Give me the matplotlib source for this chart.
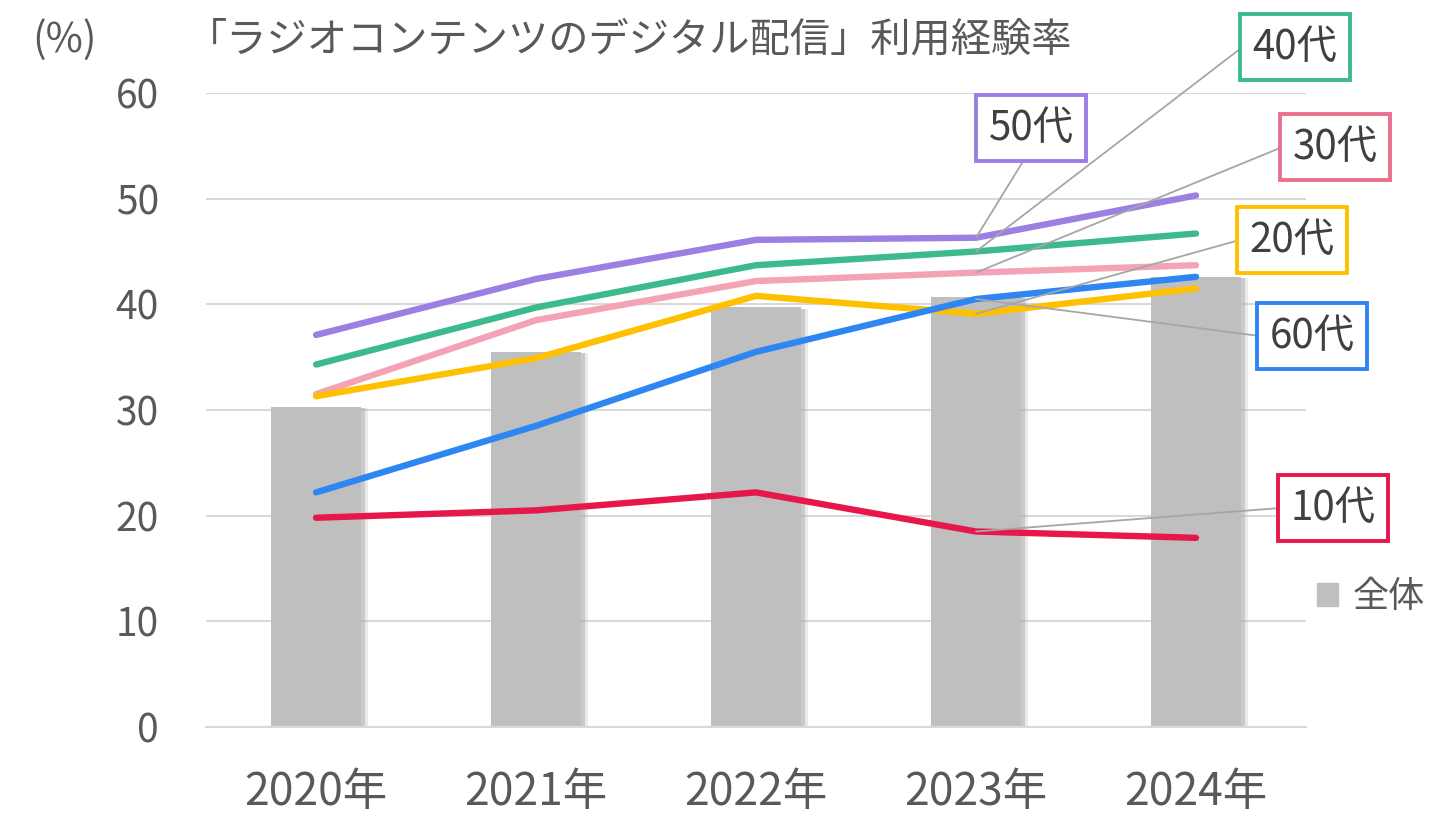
import matplotlib
matplotlib.use('Agg')
import matplotlib.pyplot as plt
import matplotlib.patheffects as pe
from matplotlib.patches import Patch

plt.rcParams['font.family'] = ['Noto Sans CJK JP', 'DejaVu Sans']

years = ['2020年', '2021年', '2022年', '2023年', '2024年']
total = [30.3, 35.5, 39.7, 40.7, 42.6]

age_10 = [19.8, 20.5, 22.2, 18.5, 17.9]
age_20 = [31.3, 34.9, 40.8, 39.1, 41.5]
age_30 = [31.5, 38.5, 42.2, 43.0, 43.7]
age_40 = [34.3, 39.7, 43.7, 45.0, 46.7]
age_50 = [37.1, 42.4, 46.1, 46.3, 50.3]
age_60 = [22.2, 28.5, 35.5, 40.5, 42.6]

series = [
    ('50代', age_50, '#9B7FE3', '#9B7FE3', (1031, 694), (0.5, 0)),
    ('40代', age_40, '#3DBA8C', '#3DBA8C', (1295, 775), (0, 0.5)),
    ('30代', age_30, '#F4A3B6', '#E9708F', (1335, 675), (0, 0.5)),
    ('20代', age_20, '#FFC000', '#FFC000', (1292, 582), (0, 0.5)),
    ('60代', age_60, '#2E86F2', '#2E86F2', (1312, 486), (0, 0.5)),
    ('10代', age_10, '#E5174B', '#E5174B', (1333, 314), (0, 0.5)),
]

txt = '#595959'
fig = plt.figure(figsize=(14.45, 8.22), dpi=100)
ax = fig.add_axes([0.1426, 0.1156, 0.7612, 0.7713])

x = list(range(len(years)))
bars = ax.bar(x, total, width=0.41, color='#BFBFBF', zorder=2)
for b in bars:
    b.set_path_effects([pe.SimplePatchShadow(offset=(3, -1), shadow_rgbFace='#999999', alpha=0.45),
                        pe.SimplePatchShadow(offset=(5, -1), shadow_rgbFace='#bbbbbb', alpha=0.3),
                        pe.Normal()])

for name, vals, col, ecol, pos, rel in series:
    ax.plot(x, vals, color=col, lw=4.6, solid_capstyle='round', solid_joinstyle='round', zorder=3)

# labels with leader lines to 2023 points
for name, vals, col, ecol, pos, rel in series:
    if rel == (0.5, 0):
        cs = 'arc,angleA=-90,angleB=0,armA=0,armB=0,rad=0'
    else:
        cs = 'arc,angleA=180,angleB=0,armA=10,armB=0,rad=0'
    ax.annotate(name, xy=(3, vals[3]), xycoords='data',
                xytext=pos, textcoords='figure pixels',
                ha='center', va='center', fontsize=29, color='#404040',
                bbox=dict(boxstyle='square,pad=0.3', fc='white', ec=ecol, lw=2.8),
                arrowprops=dict(arrowstyle='-', color='#A6A6A6', lw=1.3,
                                relpos=rel, connectionstyle=cs, shrinkA=0, shrinkB=0),
                zorder=5, annotation_clip=False)

ax.set_xlim(-0.5, 4.5)
ax.set_ylim(0, 60)
ax.set_yticks(range(0, 61, 10))
ax.set_xticks(x)
ax.set_xticklabels(years)
ax.grid(axis='y', color='#D9D9D9', lw=1.5, zorder=0)
ax.set_axisbelow(True)
for s in ['top', 'right', 'left']:
    ax.spines[s].set_visible(False)
ax.spines['bottom'].set_color('#D9D9D9')
ax.spines['bottom'].set_linewidth(1.5)
ax.tick_params(axis='y', length=0, pad=34, labelsize=28, labelcolor=txt)
ax.tick_params(axis='x', length=0, pad=30, labelsize=32, labelcolor=txt)

fig.text(0.022, 0.951, '(%)', fontsize=29, color=txt, va='center')
fig.text(0.129, 0.951, '「ラジオコンテンツのデジタル配信」利用経験率', fontsize=29, color=txt, va='center')

ax.legend(handles=[Patch(color='#BFBFBF', label='全体')], loc='center left',
          bbox_to_anchor=(0.99, 0.205), frameon=False,
          fontsize=26, labelcolor=txt, handlelength=0.6, handleheight=0.6, handletextpad=0.4,
          borderaxespad=0.2)

fig.savefig('out.png', dpi=100)
